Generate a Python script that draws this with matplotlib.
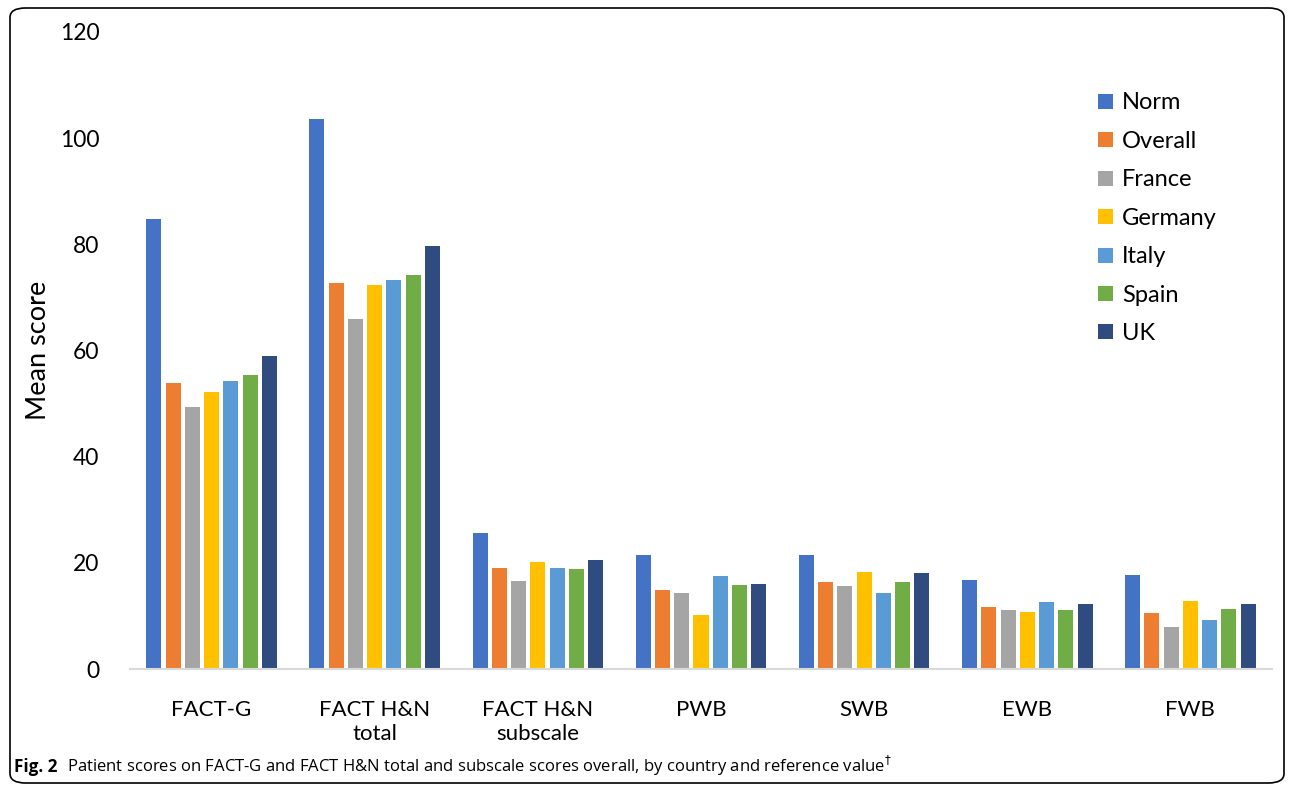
import numpy as np
import matplotlib.pyplot as plt
from matplotlib.patches import FancyBboxPatch

# data
categories = ["FACT-G", "FACT H&N\ntotal", "FACT H&N\nsubscale", "PWB", "SWB", "EWB", "FWB"]
series_names = ["Norm", "Overall", "France", "Germany", "Italy", "Spain", "UK"]
norm = [84.8, 103.6, 25.7, 21.5, 21.5, 16.8, 17.8]
overall = [53.9, 72.7, 19.0, 14.9, 16.4, 11.6, 10.6]
france = [49.3, 65.9, 16.6, 14.4, 15.6, 11.2, 7.9]
germany = [52.1, 72.4, 20.2, 10.2, 18.2, 10.7, 12.8]
italy = [54.2, 73.2, 19.0, 17.6, 14.3, 12.7, 9.3]
spain = [55.3, 74.2, 18.8, 15.8, 16.4, 11.2, 11.3]
uk = [58.9, 79.6, 20.5, 16.1, 18.0, 12.2, 12.2]
colors = ["#4472C4", "#ED7D31", "#A5A5A5", "#FFC000", "#5B9BD5", "#70AD47", "#2F4B7F"]

W, H = 1292, 789
fig = plt.figure(figsize=(W / 100, H / 100), dpi=100)
ax = fig.add_axes([130 / W, 1 - 669 / H, (1272 - 130) / W, (669 - 32) / H])

x = np.arange(len(categories))
step = 0.118
width = 0.092
all_series = [norm, overall, france, germany, italy, spain, uk]
for i, (name, vals) in enumerate(zip(series_names, all_series)):
    ax.bar(x + (i - 3) * step, vals, width, color=colors[i], label=name, zorder=2)

ax.set_xlim(-0.5, len(categories) - 0.5)
ax.set_ylim(0, 120)
ax.set_yticks(range(0, 121, 20))
ax.set_xticks(x)
ax.set_xticklabels(categories, fontsize=16, family="Lato", linespacing=1.3)
ax.tick_params(axis="both", length=0)
ax.tick_params(axis="x", pad=22)
ax.tick_params(axis="y", pad=22, labelsize=16.5)
for lab in ax.get_yticklabels():
    lab.set_family("Lato")
for s in ["top", "right", "left"]:
    ax.spines[s].set_visible(False)
ax.spines["bottom"].set_color("#d9d9d9")
ax.spines["bottom"].set_linewidth(1.5)
ax.set_ylabel("Mean score", fontsize=19.5, family="Lato", labelpad=6)

leg = ax.legend(loc="upper left", bbox_to_anchor=(1089 / W, 1 - 83 / H),
                bbox_transform=fig.transFigure, frameon=False,
                prop={"family": "Lato", "size": 17},
                handlelength=0.6, handleheight=0.6, handletextpad=0.4,
                labelspacing=0.74, borderaxespad=0)

# caption
fig.text(14 / W, 1 - 772 / H, "Fig. 2", fontsize=12.3, fontweight="bold", family="Open Sans", va="baseline")
fig.text(67 / W, 1 - 772 / H,
         "Patient scores on FACT-G and FACT H&N total and subscale scores overall, by country and reference value$^{\\dagger}$",
         fontsize=12, family="Open Sans", va="baseline")

# frame around the figure
frame = FancyBboxPatch((10 / W, 6 / H), (W - 18) / W, (H - 14) / H,
                       boxstyle="round,pad=0,rounding_size=0.012",
                       transform=fig.transFigure, fill=False,
                       edgecolor="black", linewidth=1.2)
fig.patches.append(frame)

fig.savefig("out.png", dpi=100)
